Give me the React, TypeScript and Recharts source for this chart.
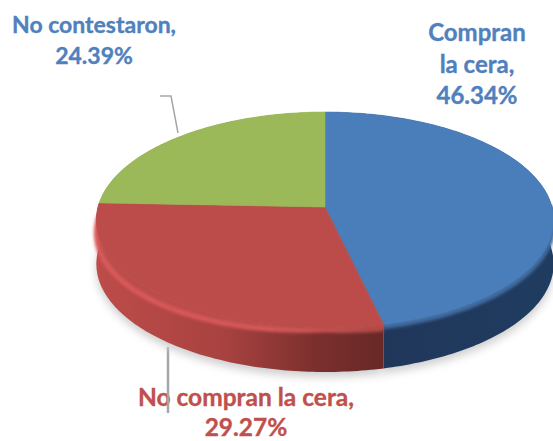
import { PieChart, Pie } from 'recharts'

const categories = ['Compran la cera', 'No compran la cera', 'No contestaron']
const shares = [46.34, 29.27, 24.39]
const faceColors = ['#4a7ebb', '#bb4c4a', '#9bb958']
const wallColors = ['url(#wallBlue)', 'url(#wallRed)', '#7d9a40']
const rimColors = ['#3f6a9e', 'url(#rimRed)', 'none']
const rimSpreads = [1, 11, 0]

const labelLines = [
  ['Compran', 'la cera,', '46.34%'],
  ['No compran la cera,', '29.27%'],
  ['No contestaron,', '24.39%'],
]
const labelColors = ['#4f81bd', '#c0504d', '#4f81bd']
const labelAnchors = [
  { x: 477, y: 41, step: 31.5, size: 24 },
  { x: 246, y: 406, step: 30, size: 24.5 },
  { x: 94, y: 33, step: 31, size: 23 },
]

const data = categories.map((name, i) => ({
  name,
  value: shares[i],
  fill: faceColors[i],
  wall: wallColors[i],
  rim: rimColors[i],
  spread: rimSpreads[i],
}))

// pie plane seen in perspective, the far edge is squeezed
const TILT = 106.4
const SKEW = 0.1204
const DEPTH = 44

const project = (cx: number, cy: number, r: number, deg: number, dy = 0) => {
  const t = (deg * Math.PI) / 180
  const w = 1 + SKEW * Math.sin(t)
  return [cx + (r * Math.cos(t)) / w, cy - (TILT * Math.sin(t)) / w + dy]
}

const angles = (p: any) => {
  const steps = Math.ceil(Math.abs(p.endAngle - p.startAngle))
  return Array.from({ length: steps + 1 }, (_, i) => p.startAngle + ((p.endAngle - p.startAngle) * i) / steps)
}

const arcPoints = (p: any, dy = 0) => angles(p).map(deg => project(p.cx, p.cy, p.outerRadius, deg, dy))

const toPath = (pts: number[][]) => 'M' + pts.map(q => q.map(n => n.toFixed(1)).join(' ')).join('L')

const ShadowShape = (p: any) => (
  <path d={toPath(arcPoints(p, DEPTH + 5)) + `L${p.cx} ${p.cy + DEPTH + 5}Z`} fill="#cfcfcf" filter="url(#blurWide)" />
)

const WallShape = (p: any) => {
  const top = arcPoints(p)
  const low = arcPoints(p, DEPTH).reverse()
  return <path d={toPath([...top, ...low]) + 'Z'} fill={p.wall} />
}

// the bevel along the front edge, wider towards the sides of the pie
const RimShape = (p: any) => {
  const front = angles(p).filter(deg => Math.sin((deg * Math.PI) / 180) < 0.05)
  if (!front.length || p.rim === 'none') return <g />
  const edge = front.map(deg => project(p.cx, p.cy, p.outerRadius, deg))
  const bevel = front.map(deg => {
    const c = Math.abs(Math.cos((deg * Math.PI) / 180))
    return project(p.cx, p.cy, p.outerRadius, deg, 2 + p.spread * c)
  })
  return (
    <g>
      <path d={toPath([...edge, ...[...bevel].reverse()]) + 'Z'} fill={p.fill} />
      <path d={toPath(bevel)} fill="none" stroke={p.rim} strokeWidth={5} filter="url(#blurSoft)" />
    </g>
  )
}

const FaceShape = (p: any) => (
  <path d={toPath(arcPoints(p)) + `L${p.cx} ${p.cy}Z`} fill={p.fill} stroke={p.fill} strokeWidth={0.6} />
)

const pieProps = {
  data,
  dataKey: 'value',
  nameKey: 'name',
  cx: 325,
  cy: 207,
  outerRadius: 227,
  startAngle: 90,
  endAngle: -270,
  stroke: 'none',
  isAnimationActive: false,
}

export default function App() {
  return (
    <div style={{ position: 'absolute', left: 0, top: 0, width: 553, height: 441, overflow: 'hidden', background: '#fff' }}>
      <PieChart width={553} height={441} margin={{ top: 0, right: 0, bottom: 0, left: 0 }}>
        <defs>
          <filter id="blurWide" x="-10%" y="-10%" width="120%" height="120%">
            <feGaussianBlur stdDeviation="4" />
          </filter>
          <filter id="blurSoft" x="-10%" y="-30%" width="120%" height="160%">
            <feGaussianBlur stdDeviation="1.8" />
          </filter>
          <linearGradient id="wallRed" gradientUnits="userSpaceOnUse" x1="95" y1="0" x2="385" y2="0">
            <stop offset="0%" stopColor="#bd4c4a" />
            <stop offset="45%" stopColor="#a84240" />
            <stop offset="75%" stopColor="#7c302e" />
            <stop offset="100%" stopColor="#672826" />
          </linearGradient>
          <linearGradient id="rimRed" gradientUnits="userSpaceOnUse" x1="95" y1="0" x2="385" y2="0">
            <stop offset="0%" stopColor="#da5a5a" />
            <stop offset="60%" stopColor="#d65858" />
            <stop offset="100%" stopColor="#ad4846" />
          </linearGradient>
          <linearGradient id="wallBlue" gradientUnits="userSpaceOnUse" x1="385" y1="0" x2="553" y2="0">
            <stop offset="0%" stopColor="#20375a" />
            <stop offset="100%" stopColor="#1f3c60" />
          </linearGradient>
        </defs>
        <Pie {...pieProps} shape={ShadowShape} />
        <Pie {...pieProps} shape={WallShape} />
        <Pie {...pieProps} shape={RimShape} />
        <Pie {...pieProps} shape={FaceShape} />
        <polyline points="160,96 171,96 178,133" fill="none" stroke="#a6a6a6" strokeWidth={1.5} />
        {labelLines.map((lines, i) => (
          <text
            key={categories[i]}
            textAnchor="middle"
            fontFamily="Lato"
            fontWeight={700}
            fontSize={labelAnchors[i].size}
            fill={labelColors[i]}
            stroke={labelColors[i]}
            strokeWidth={0.35}
          >
            {lines.map((line, j) => (
              <tspan key={line} x={labelAnchors[i].x} y={labelAnchors[i].y + j * labelAnchors[i].step}>
                {line}
              </tspan>
            ))}
          </text>
        ))}
        <line x1={168} y1={347} x2={168} y2={413} stroke="#a6a6a6" strokeWidth={2.5} />
      </PieChart>
    </div>
  )
}
